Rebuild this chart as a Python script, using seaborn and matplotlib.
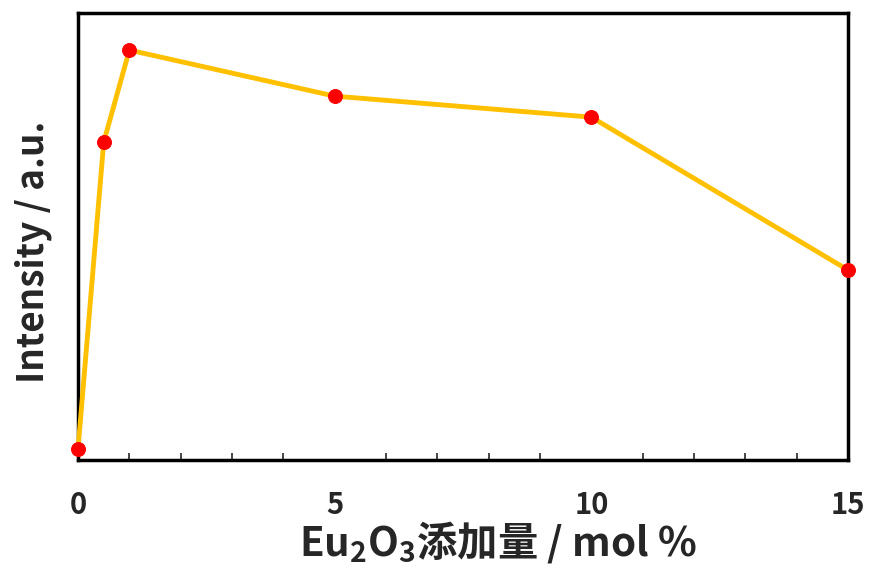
import numpy as np
import pandas as pd
import matplotlib
matplotlib.use("Agg")
import matplotlib.pyplot as plt
from matplotlib.ticker import MultipleLocator
import seaborn as sns

# Eu2O3 content (mol %) vs. emission intensity (arbitrary units)
eu_content = [0, 0.5, 1, 5, 10, 15]
intensity = [2.5, 71.1, 91.7, 81.4, 76.7, 42.5]

df = pd.DataFrame({"eu": eu_content, "intensity": intensity})

sns.set_style("white")
plt.rcParams["font.family"] = ["Noto Sans CJK JP", "DejaVu Sans"]
plt.rcParams["font.weight"] = "bold"
plt.rcParams["mathtext.fontset"] = "custom"
plt.rcParams["mathtext.default"] = "regular"

fig = plt.figure(figsize=(8.69, 5.72), dpi=100)
ax = fig.add_axes([0.0898, 0.1958, 0.886, 0.7815])

sns.lineplot(data=df, x="eu", y="intensity", ax=ax, color="#FFC000", linewidth=3.5,
             marker="o", markersize=10, markerfacecolor="red", markeredgecolor="red",
             clip_on=False, zorder=3)

ax.set_xlim(0, 15)
ax.set_ylim(0, 100)
ax.xaxis.set_major_locator(MultipleLocator(5))
ax.xaxis.set_minor_locator(MultipleLocator(1))
ax.set_yticks([])
ax.tick_params(axis="x", which="major", direction="in", length=7, width=1.2,
               labelsize=21, pad=21.5, top=False)
ax.tick_params(axis="x", which="minor", direction="in", length=5, width=1.2,
               bottom=True, top=False)
for lbl in ax.get_xticklabels():
    lbl.set_fontweight("bold")

for sp in ax.spines.values():
    sp.set_visible(True)
    sp.set_color("black")
    sp.set_linewidth(2.5)

ax.set_ylabel("Intensity / a.u.", fontsize=26.5, fontweight="bold", labelpad=19)
ax.set_xlabel("Eu$_2$O$_3$添加量 / mol %", fontsize=29, fontweight="bold", labelpad=-0.5)
# labels sit off-centre in the original
ax.xaxis.label.set_x(0.545)
ax.yaxis.label.set_y(0.466)

fig.savefig("out.png", dpi=100)
